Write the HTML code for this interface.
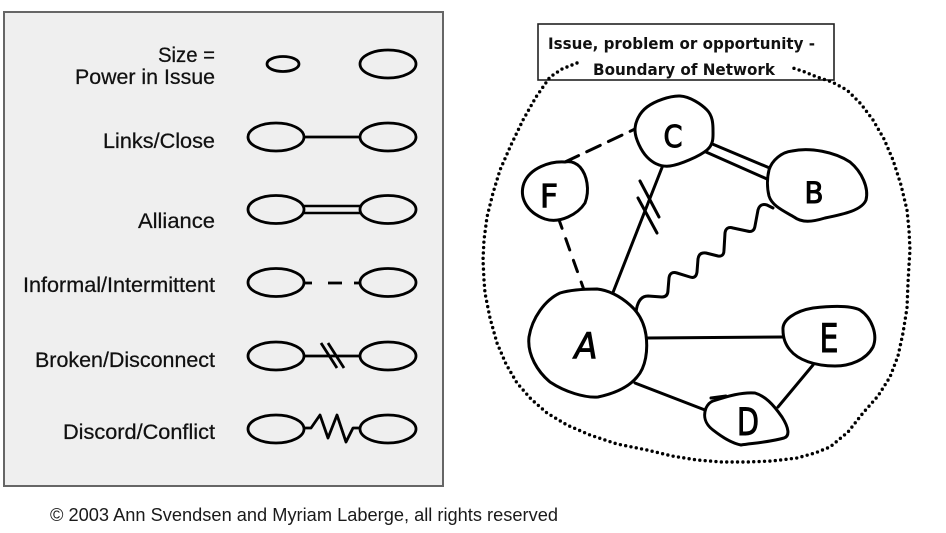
<!DOCTYPE html>
<html><head><meta charset="utf-8"><style>html,body{margin:0;padding:0;background:#fff}svg{display:block}</style></head>
<body>
<svg width="946" height="533" viewBox="0 0 946 533" xmlns="http://www.w3.org/2000/svg">
<rect x="0" y="0" width="946" height="533" fill="#fff"/>
<!-- Legend panel -->
<rect x="4" y="12" width="439" height="474" fill="#efefef" stroke="#666" stroke-width="2"/>
<g font-family="Liberation Sans, Arial, sans-serif" font-size="21" fill="#111" stroke="#111" stroke-width="0.25" text-anchor="end">
  <text x="215" y="62" textLength="57" lengthAdjust="spacingAndGlyphs">Size =</text>
  <text x="215" y="84" textLength="140" lengthAdjust="spacingAndGlyphs">Power in Issue</text>
  <text x="215" y="148" textLength="112" lengthAdjust="spacingAndGlyphs">Links/Close</text>
  <text x="215" y="228" textLength="77" lengthAdjust="spacingAndGlyphs">Alliance</text>
  <text x="215" y="292" textLength="192" lengthAdjust="spacingAndGlyphs">Informal/Intermittent</text>
  <text x="215" y="367" textLength="180" lengthAdjust="spacingAndGlyphs">Broken/Disconnect</text>
  <text x="215" y="439" textLength="152" lengthAdjust="spacingAndGlyphs">Discord/Conflict</text>
</g>
<g fill="none" stroke="#000" stroke-width="2.8">
  <ellipse cx="283" cy="64" rx="16" ry="7.5"/>
  <ellipse cx="388" cy="64" rx="28" ry="14"/>

  <ellipse cx="276" cy="137" rx="28" ry="14"/>
  <ellipse cx="388" cy="137" rx="28" ry="14"/>
  <line x1="304" y1="137" x2="360" y2="137"/>

  <ellipse cx="276" cy="209.5" rx="28" ry="14"/>
  <ellipse cx="388" cy="209.5" rx="28" ry="14"/>
  <line x1="303" y1="206" x2="361" y2="206" stroke-width="2.4"/>
  <line x1="303" y1="213" x2="361" y2="213" stroke-width="2.4"/>

  <ellipse cx="276" cy="282.5" rx="28" ry="14"/>
  <ellipse cx="388" cy="282.5" rx="28" ry="14"/>
  <line x1="304" y1="283" x2="312" y2="283"/>
  <line x1="328" y1="283" x2="342" y2="283"/>
  <line x1="354" y1="283" x2="360" y2="283"/>

  <ellipse cx="276" cy="356" rx="28" ry="14"/>
  <ellipse cx="388" cy="356" rx="28" ry="14"/>
  <line x1="304" y1="356" x2="360" y2="356"/>
  <line x1="321" y1="343" x2="337" y2="368"/>
  <line x1="328" y1="343" x2="344" y2="368"/>

  <ellipse cx="276" cy="429" rx="28" ry="14"/>
  <ellipse cx="388" cy="429" rx="28" ry="14"/>
  <polyline points="304,428 311,428 320,415 328,438 337,415 346,442 353,428 360,428" stroke-linejoin="round"/>
</g>
<text x="50" y="521" font-family="Liberation Sans, Arial, sans-serif" font-size="18" fill="#1a1a1a" textLength="508" lengthAdjust="spacingAndGlyphs">© 2003 Ann Svendsen and Myriam Laberge, all rights reserved</text>

<!-- Network panel -->
<rect x="538" y="24" width="296" height="56" fill="#fff" stroke="#222" stroke-width="1.6"/>
<g font-family="DejaVu Sans, sans-serif" font-size="16" font-weight="bold" fill="#111">
  <text x="548" y="49" textLength="267" lengthAdjust="spacingAndGlyphs">Issue, problem or opportunity -</text>
  <text x="593" y="75" textLength="182" lengthAdjust="spacingAndGlyphs">Boundary of Network</text>
</g>
<polyline fill="none" stroke="#000" stroke-width="3.4" stroke-linecap="round" stroke-dasharray="0 5.4"
 points="577,63 562,69 550,77 536,97 523,120 511,145 500,170 493,193 487,217 484,240 483,260 484,280 485,293 490,318 497,343 506,364 517,383 531,399 547,413 567,425 590,435 617,444 647,450 672,456 697,460 722,462 747,462 772,461 797,458 815,453 830,447 848,432 863,413 878,396 890,377 898,356 903,333 907,308 908,283 909,265 910,250 909,230 907,210 901,185 893,160 884,139 873,120 861,104 847,90 832,82 817,77 805,72 793,68"/>

<g fill="none" stroke="#000" stroke-width="3" stroke-linecap="round" stroke-linejoin="round">
  <!-- edges -->
  <line x1="565" y1="162" x2="635" y2="129" stroke-dasharray="15 9"/>
  <line x1="558" y1="217" x2="584" y2="290" stroke-dasharray="12 11"/>
  <line x1="710" y1="143" x2="772" y2="169"/>
  <line x1="706" y1="152" x2="767" y2="179"/>
  <line x1="663" y1="165" x2="612" y2="295"/>
  <line x1="640" y1="181" x2="659" y2="217"/>
  <line x1="638" y1="198" x2="657" y2="233"/>
  <path d="M636,312 Q638,296 648,296 L662,297 Q668,297 668,290 L669,278 Q670,271 677,273 L690,277 Q696,279 697,272 L698,259 Q699,252 706,253 L718,256 Q724,257 724,250 L725,233 Q726,226 733,228 L747,231 Q754,233 755,226 L758,210 Q760,203 767,205 L773,208"/>
  <line x1="647" y1="338" x2="783" y2="337"/>
  <line x1="635" y1="383" x2="705" y2="410"/>
  <line x1="813" y1="365" x2="778" y2="407"/>
  <!-- nodes -->
  <path fill="#fff" d="M680,96 C690,96.5 701.5,104.3 707,110 C712.5,115.7 713,123.3 713,130 C713,136.7 714,144 707,150 C700,156 680,164.8 670,166 C660,167.2 652.8,163 647,157 C641.2,151 635,138.3 635,130 C635,121.7 639.5,112.7 647,107 C654.5,101.3 670,95.5 680,96 Z"/>
  <path fill="#fff" d="M769,170 C772,160 782,152 792,151 C810,147 835,152 850,162 C862,172 869,188 866,200 C862,210 845,214 825,218 C812,222 802,223 794,217 C784,211 772,206 769,196 C767,188 767,178 769,170 Z"/>
  <path fill="#fff" d="M565,162 C550,161 530,168 524,183 C519,197 526,212 545,219 C560,224 578,214 585,203 C590,190 587,175 580,167 C575,162 570,161 565,162 Z"/>
  <path fill="#fff" d="M560,293 C545,300 532,318 529,337 C527,355 538,372 550,382 C565,392 585,398 598,397 C612,394 628,388 637,377 C646,367 648,350 646,335 C644,322 638,312 630,305 C620,296 608,290 597,289 C585,289 570,290 560,293 Z"/>
  <path fill="#fff" d="M783,330 C782,320 795,311 813,308 C830,306 850,305 860,310 C872,318 878,335 873,347 C866,360 850,366 835,366 C815,366 798,360 790,350 C785,344 783,337 783,330 Z"/>
  <path fill="#fff" d="M713,401 C728,396 742,392 755,393 C765,396 773,404 782,417 C789,428 790,436 784,438 C770,442 755,443 741,445 C731,443 722,437 713,430 C705,424 703,416 706,408 C708,404 710,402 713,401 Z"/>
  <line x1="711" y1="398" x2="726" y2="396"/>
</g>
<g font-family="DejaVu Sans, sans-serif" fill="#000" stroke="#000" stroke-width="1" text-anchor="middle">
  <text x="673" y="147" font-size="30" textLength="19" lengthAdjust="spacingAndGlyphs">C</text>
  <text x="814" y="203" font-size="29" textLength="19" lengthAdjust="spacingAndGlyphs">B</text>
  <text x="549" y="207" font-size="32" textLength="18" lengthAdjust="spacingAndGlyphs">F</text>
  <text x="586" y="358" font-size="36" font-style="italic" textLength="23" lengthAdjust="spacingAndGlyphs">A</text>
  <text x="829" y="352" font-size="39" textLength="19" lengthAdjust="spacingAndGlyphs">E</text>
  <text x="748" y="435" font-size="37" textLength="22" lengthAdjust="spacingAndGlyphs">D</text>
</g>
</svg>
</body></html>
